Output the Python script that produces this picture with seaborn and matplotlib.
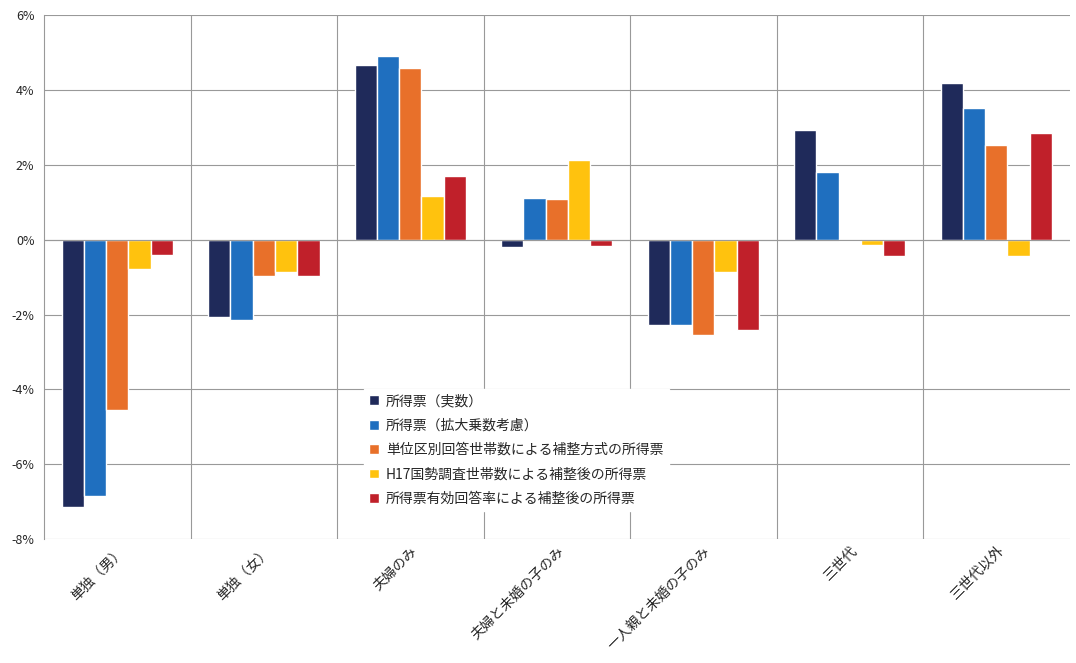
import pandas as pd
import matplotlib.pyplot as plt
import seaborn as sns

categories = ['単独（男）', '単独（女）', '夫婦のみ', '夫婦と未婚の子のみ', '一人親と未婚の子のみ', '三世代', '三世代以外']
series = ['所得票（実数）', '所得票（拡大乗数考慮）', '単位区別回答世帯数による補整方式の所得票',
          'H17国勢調査世帯数による補整後の所得票', '所得票有効回答率による補整後の所得票']
v_actual = [-7.14, -2.07, 4.66, -0.20, -2.29, 2.93, 4.18]
v_expand = [-6.85, -2.15, 4.90, 1.11, -2.29, 1.80, 3.51]
v_unit = [-4.55, -0.98, 4.58, 1.08, -2.55, -0.04, 2.53]
v_h17 = [-0.79, -0.87, 1.16, 2.12, -0.87, -0.15, -0.44]
v_rate = [-0.42, -0.98, 1.70, -0.17, -2.42, -0.44, 2.85]
colors = ['#1f2a5a', '#1f6fbf', '#e8702a', '#ffc20e', '#c0202a']

rows = []
for s, vals in zip(series, [v_actual, v_expand, v_unit, v_h17, v_rate]):
    for c, v in zip(categories, vals):
        rows.append({'cat': c, 'series': s, 'value': v})
df = pd.DataFrame(rows)

sns.set_style('white')
plt.rcParams['font.family'] = ['Noto Sans CJK JP', 'DejaVu Sans']

fig = plt.figure(figsize=(10.76, 6.63), dpi=100)
ax = fig.add_axes([0.041, 0.187, 0.953, 0.790])
sns.barplot(data=df, x='cat', y='value', hue='series', palette=colors, width=0.76,
            saturation=1, ax=ax, zorder=3)
ax.set_ylim(-8, 6)
ax.set_xlim(-0.5, 6.5)
ax.set_yticks(range(-8, 7, 2))
ax.set_yticklabels([f'{t}%' for t in range(-8, 7, 2)], fontsize=9)
ax.yaxis.grid(True, color='#999999', lw=0.8, zorder=0)
for x in [i + 0.5 for i in range(6)]:
    ax.axvline(x, color='#999999', lw=0.8, zorder=0)
ax.axhline(0, color='#999999', lw=0.8, zorder=4)
ax.set_xlabel('')
ax.set_ylabel('')
ax.tick_params(axis='x', length=0)
plt.setp(ax.get_xticklabels(), rotation=45, ha='right', rotation_mode='anchor', fontsize=10)
for sp in ['top', 'right', 'bottom']:
    ax.spines[sp].set_visible(False)
ax.spines['left'].set_color('#999999')
ax.spines['left'].set_linewidth(0.8)
leg = ax.legend(loc='center left', bbox_to_anchor=(0.305, 0.17), frameon=True, fancybox=False,
                edgecolor='white', framealpha=1, fontsize=10, handlelength=0.7, handleheight=0.7,
                handletextpad=0.5, labelspacing=0.75)
leg.set_zorder(5)
fig.savefig('out.png', dpi=100, facecolor='white')
